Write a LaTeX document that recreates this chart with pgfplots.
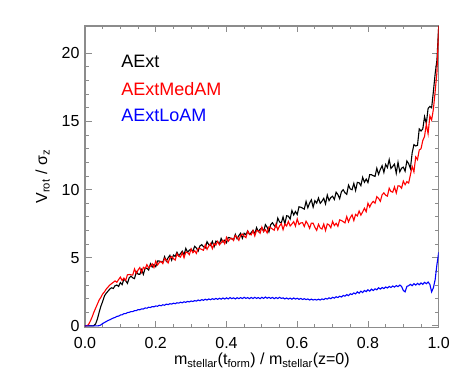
\documentclass[border=0pt]{standalone}
\usepackage{fontspec}
\setmainfont{Liberation Sans}
\usepackage{pgfplots}
\usepackage{pgfplotstable}
\pgfplotsset{compat=1.18}
\definecolor{axgray}{HTML}{8C8C8C}

% x = m_stellar(t_form)/m_stellar(z=0); columns: AExt, AExtMedAM, AExtLoAM
\pgfplotstableread{
x black red blue
0.000 0 0 0
0.005 0 0 0
0.010 0 0.1 0
0.015 0 0.35 0
0.020 0 0.65 0
0.025 0.02 1.0 0
0.030 0.15 1.3 0
0.035 0.5 1.6 0
0.040 1.0 1.9 0.02
0.045 1.45 2.1 0.08
0.050 1.8 2.35 0.18
0.055 2.2 2.5 0.25
0.060 2.4 2.7 0.32
0.065 2.55 2.85 0.4
0.070 2.7 3.0 0.45
0.075 2.8 3.1 0.52
0.080 2.75 3.2 0.58
0.085 2.95 3.3 0.62
0.090 3.0 3.2 0.7
0.095 2.9 3.4 0.72
0.100 3.18 3.58 0.8
0.105 3.03 3.33 0.82
0.110 3.43 3.51 0.9
0.115 3.32 3.34 0.9
0.120 3.12 3.75 0.98
0.125 3.53 3.77 1.0
0.130 3.65 3.75 1.05
0.135 3.53 3.73 1.05
0.140 3.47 4.18 1.12
0.145 3.98 3.85 1.12
0.150 3.80 4.10 1.2
0.155 3.78 4.28 1.18
0.160 4.13 3.92 1.25
0.165 3.78 4.30 1.24
0.170 4.23 4.20 1.32
0.175 4.23 4.50 1.3
0.180 4.10 4.25 1.37
0.185 4.56 4.39 1.35
0.190 4.32 4.56 1.42
0.195 4.51 4.28 1.4
0.200 4.35 4.75 1.47
0.205 4.76 4.47 1.44
0.210 4.76 4.65 1.52
0.215 4.71 4.73 1.48
0.220 4.67 4.57 1.55
0.225 5.08 4.95 1.52
0.230 4.75 4.83 1.6
0.235 5.00 4.62 1.56
0.240 5.18 5.00 1.63
0.245 4.82 5.09 1.6
0.250 5.20 4.93 1.67
0.255 5.10 4.83 1.63
0.260 5.40 5.30 1.7
0.265 5.15 5.10 1.67
0.270 5.30 5.05 1.74
0.275 5.48 5.38 1.7
0.280 5.22 5.00 1.77
0.285 5.69 5.42 1.73
0.290 5.40 5.39 1.8
0.295 5.56 5.23 1.76
0.300 5.63 5.65 1.83
0.305 5.46 5.37 1.79
0.310 5.84 5.52 1.86
0.315 5.71 5.32 1.82
0.320 5.49 5.70 1.9
0.325 5.87 5.67 1.85
0.330 5.96 5.61 1.93
0.335 5.81 5.55 1.88
0.340 5.72 5.95 1.96
0.345 6.18 5.62 1.9
0.350 5.96 5.86 1.98
0.355 5.89 6.04 1.92
0.360 6.20 5.67 2.0
0.365 5.80 6.04 1.94
0.370 6.22 5.93 2.02
0.375 6.17 6.21 1.95
0.380 6.00 5.95 2.03
0.385 6.42 6.10 1.96
0.390 6.15 6.28 2.05
0.395 6.29 6.02 1.97
0.400 6.10 6.50 2.06
0.405 6.49 6.21 1.98
0.410 6.46 6.38 2.08
0.415 6.38 6.44 2.0
0.420 6.32 6.27 2.06
0.425 6.72 6.64 1.98
0.430 6.39 6.51 2.07
0.435 6.63 6.28 2.0
0.440 6.80 6.65 2.08
0.445 6.43 6.74 2.01
0.450 6.80 6.58 2.1
0.455 6.68 6.48 2.02
0.460 6.97 6.95 2.08
0.465 6.71 6.74 2.0
0.470 6.85 6.68 2.09
0.475 7.01 6.99 2.01
0.480 6.74 6.60 2.1
0.485 7.21 7.01 2.02
0.490 6.92 6.97 2.08
0.495 7.09 6.80 2.0
0.500 7.19 7.25 2.1
0.505 6.94 6.92 2.02
0.510 7.43 7.06 2.12
0.515 7.23 6.82 2.03
0.520 6.90 7.26 2.1
0.525 7.43 7.20 2.02
0.530 7.57 7.11 2.09
0.535 7.36 7.02 2.0
0.540 7.25 7.47 2.08
0.545 7.91 7.05 2.01
0.550 7.63 7.33 2.1
0.555 7.55 7.51 2.02
0.560 8.00 7.06 2.06
0.565 7.48 7.48 1.98
0.570 8.08 7.33 2.05
0.575 8.05 7.66 1.97
0.580 7.84 7.33 2.04
0.585 8.47 7.48 1.96
0.590 8.14 7.65 2.05
0.595 8.39 7.32 1.97
0.600 8.17 7.85 2.03
0.605 8.74 7.44 1.95
0.610 8.71 7.56 2.02
0.615 8.64 7.57 1.94
0.620 8.57 7.30 2.0
0.625 9.13 7.68 1.93
0.630 8.67 7.47 1.98
0.635 9.01 7.16 1.9
0.640 9.25 7.54 1.97
0.645 8.71 7.53 1.9
0.650 9.19 7.23 1.95
0.655 9.01 7.01 1.9
0.660 9.38 7.45 1.96
0.665 8.99 7.19 1.9
0.670 9.15 7.11 1.98
0.675 9.36 7.47 1.93
0.680 8.95 7.00 2.02
0.685 9.60 7.48 1.97
0.690 9.19 7.41 2.06
0.695 9.42 7.20 2.0
0.700 9.51 7.67 2.1
0.705 9.28 7.36 2.04
0.710 9.81 7.53 2.14
0.715 9.63 7.31 2.08
0.720 9.33 7.78 2.18
0.725 9.85 7.73 2.12
0.730 9.99 7.65 2.24
0.735 9.77 7.56 2.18
0.740 9.65 8.02 2.3
0.745 10.33 7.63 2.22
0.750 10.05 7.94 2.36
0.755 9.99 8.15 2.3
0.760 10.45 7.73 2.42
0.765 9.93 8.18 2.35
0.770 10.53 8.07 2.5
0.775 10.50 8.43 2.4
0.780 10.29 8.13 2.55
0.785 10.90 8.36 2.45
0.790 10.54 8.63 2.6
0.795 10.77 8.38 2.52
0.800 10.52 9.00 2.65
0.805 11.10 8.72 2.55
0.810 11.09 8.99 2.7
0.815 11.02 9.13 2.6
0.820 10.97 9.00 2.72
0.825 11.56 9.48 2.65
0.830 11.12 9.36 2.8
0.835 11.48 9.14 2.7
0.840 11.75 9.62 2.82
0.845 11.26 9.76 2.74
0.850 11.85 9.59 2.86
0.855 11.62 9.52 2.78
0.860 12.20 10.10 2.9
0.865 11.55 9.86 2.82
0.870 11.70 9.81 2.93
0.875 11.87 10.20 2.85
0.880 11.20 9.75 2.96
0.885 12.00 10.28 2.88
0.890 11.30 10.26 3.0
0.895 11.57 10.10 2.9
0.900 11.65 10.62 2.6
0.905 11.35 10.36 2.5
0.910 12.10 10.58 2.9
0.915 11.90 10.48 2.95
0.920 11.55 11.08 3.05
0.925 12.70 11.7 2.95
0.930 13.30 11.3 3.1
0.935 13.20 12.4 3.0
0.940 13.25 12.2 3.12
0.945 14.45 12.9 3.02
0.950 14.30 13.0 3.15
0.955 14.45 13.6 3.05
0.960 15.35 13.9 3.2
0.965 14.85 14.8 3.1
0.970 15.95 14.1 3.22
0.975 16.10 15.4 3.05
0.980 16.00 15.1 2.5
0.985 17.2 15.9 2.8
0.990 18.5 17.2 3.4
0.995 19.5 18.6 4.5
1.000 22.0 22.0 5.4
}\vrot

\begin{document}
\fontsize{16}{19}\selectfont
\begin{tikzpicture}
\begin{axis}[
    scale only axis,
    width=353.7pt,
    height=301.3pt,
    xmin=0, xmax=1,
    ymin=-0.1, ymax=22,
    xtick={0,0.2,0.4,0.6,0.8,1},
    ytick={0,5,10,15,20},
    minor x tick num=3,
    minor y tick num=4,
    tick align=inside,
    major tick length=6.5pt,
    minor tick length=3.5pt,
    axis line style={axgray, line width=1.2pt},
    every tick/.append style={axgray, line width=0.9pt},
    /pgf/number format/assume math mode=true,
    tick label style={font=\fontsize{16}{19}\selectfont, black},
    xticklabel style={/pgf/number format/.cd, fixed, fixed zerofill, precision=1, /tikz/.cd, yshift=-4pt},
    xlabel={m\textsubscript{stellar}(t\textsubscript{form}) / m\textsubscript{stellar}(z=0)},
    ylabel={V\textsubscript{rot} / σ\textsubscript{z}},
    label style={font=\fontsize{15}{18}\selectfont},
    every axis x label/.style={at={(axis description cs:0.5,-0.11)}, anchor=center},
    every axis y label/.style={at={(axis description cs:-0.12,0.5)}, rotate=90, anchor=center},
]
\addplot[black, line width=1.1pt] table[x=x, y=black] {\vrot};
\addplot[red, line width=1.1pt] table[x=x, y=red] {\vrot};
\addplot[blue, line width=1.1pt] table[x=x, y=blue] {\vrot};
\node[anchor=west, black, font=\fontsize{18}{21}\selectfont] at (axis cs:0.087,19.43) {AExt};
\node[anchor=west, red, font=\fontsize{18}{21}\selectfont] at (axis cs:0.087,17.41) {AExtMedAM};
\node[anchor=west, blue, font=\fontsize{18}{21}\selectfont] at (axis cs:0.087,15.45) {AExtLoAM};
\end{axis}
\pgfresetboundingbox
\path ([xshift=-85pt,yshift=-54.7pt]current axis.south west)
    rectangle ([xshift=24.3pt,yshift=26pt]current axis.north east);
\end{tikzpicture}
\end{document}
